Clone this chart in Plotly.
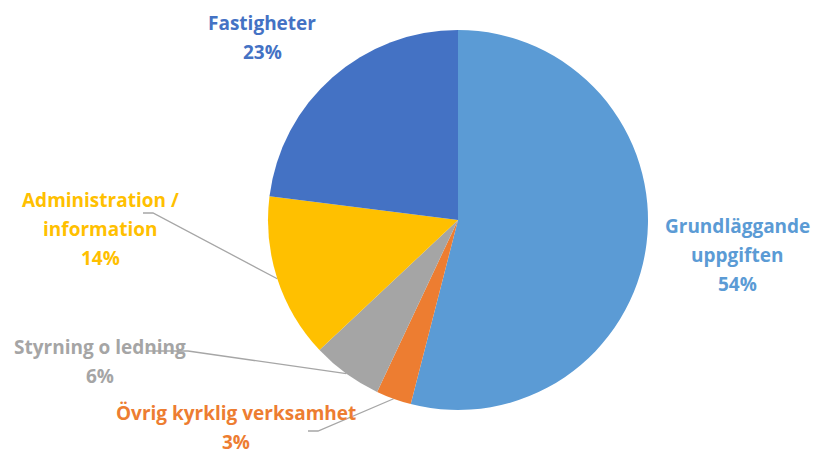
import math
import plotly.graph_objects as go

categories = ["Grundläggande uppgiften", "Övrig kyrklig verksamhet", "Styrning o ledning",
              "Administration / information", "Fastigheter"]
values = [54, 3, 6, 14, 23]
label_lines = [["Grundläggande", "uppgiften"], ["Övrig kyrklig verksamhet"], ["Styrning o ledning"],
               ["Administration /", "information"], ["Fastigheter"]]
colors = ["#5B9BD5", "#ED7D31", "#A5A5A5", "#FFC000", "#4472C4"]

W, H = 816, 450
CX, CY, R = 458, 220, 190
# label block centre (x, y of first line) in pixels, and leader elbow/end
label_pos = [(737, 226), (236, 413), (100, 347), (100, 200), (262, 23)]
leader = [None, (318, 431, 308), (188, 351, 147), (153, 213, 143), None]
LINE_H = 29

fig = go.Figure()
fig.add_trace(go.Pie(
    labels=categories, values=values, sort=False, direction="clockwise", rotation=0,
    marker=dict(colors=colors, line=dict(color="white", width=0)),
    textinfo="none", hoverinfo="label+percent", showlegend=False,
    domain=dict(x=[(CX - R) / W, (CX + R) / W], y=[1 - (CY + R) / H, 1 - (CY - R) / H]),
))

total = sum(values)
cum = 0
for i, v in enumerate(values):
    mid = (cum + v / 2) / total * 2 * math.pi
    cum += v
    ax = CX + R * math.sin(mid)
    ay = CY - R * math.cos(mid)
    if leader[i] is not None:
        ex, ey, hx = leader[i]
        fig.add_trace(go.Scatter(x=[ax, ex, hx], y=[ay, ey, ey], mode="lines",
                                 line=dict(color="#A6A6A6", width=1.3),
                                 hoverinfo="skip", showlegend=False))
    lx, ly = label_pos[i]
    lines = label_lines[i] + [f"{round(v / total * 100)}%"]
    for j, t in enumerate(lines):
        fig.add_annotation(x=lx, y=ly + j * LINE_H, text=t, showarrow=False,
                           xref="x", yref="y", xanchor="center", yanchor="middle",
                           font=dict(family="Open Sans", size=19, color=colors[i], weight="bold"))

fig.update_layout(
    width=W, height=H, margin=dict(l=0, r=0, t=0, b=0),
    paper_bgcolor="white", plot_bgcolor="rgba(0,0,0,0)",
    xaxis=dict(range=[0, W], visible=False, fixedrange=True),
    yaxis=dict(range=[H, 0], visible=False, fixedrange=True),
)
fig.write_html("out.html")
